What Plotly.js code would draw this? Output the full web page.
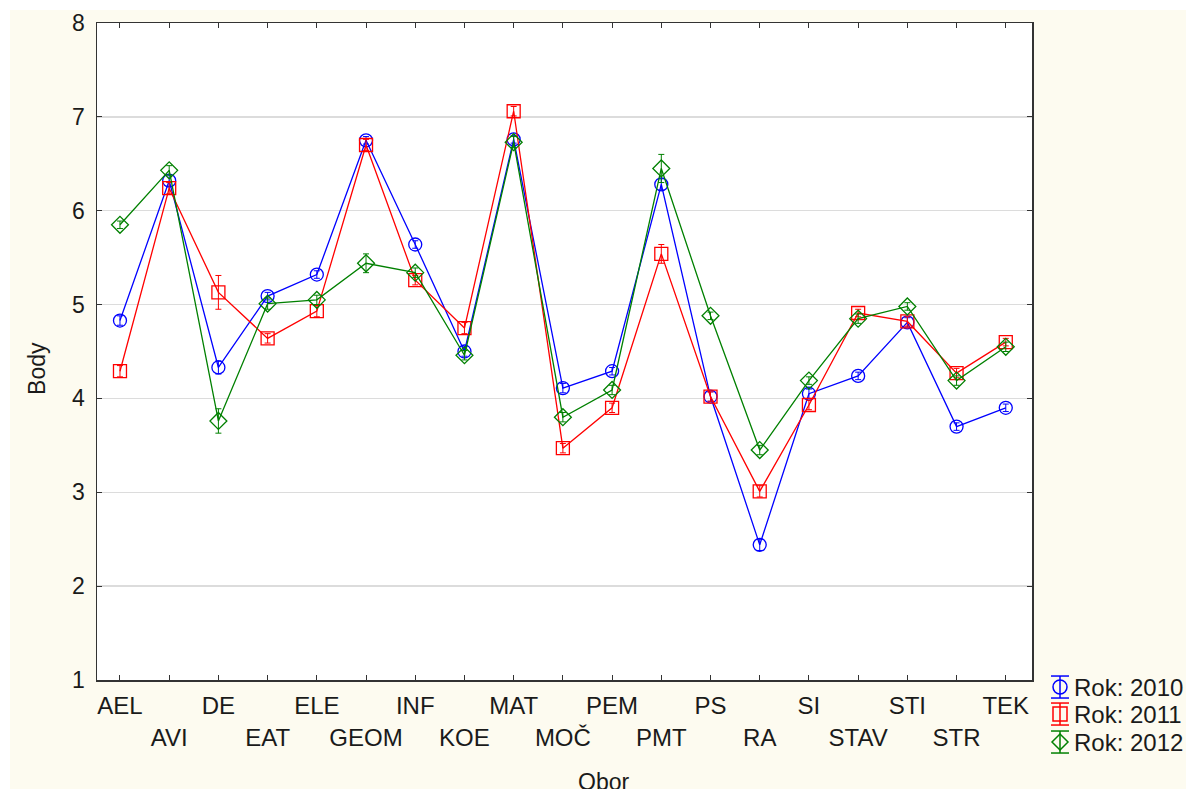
<!DOCTYPE html>
<html>
<head>
<meta charset="utf-8">
<script src="https://cdn.plot.ly/plotly-3.0.1.min.js"></script>
<style>
html,body{margin:0;padding:0;background:#ffffff;}
#chart{position:absolute;left:10px;top:10px;width:1176px;height:779px;}
</style>
</head>
<body>
<div id="chart"></div>
<script>
const categories = ["AEL","AVI","DE","EAT","ELE","GEOM","INF","KOE","MAT","MOČ","PEM","PMT","PS","RA","SI","STAV","STI","STR","TEK"];
const seriesNames = ["Rok: 2010","Rok: 2011","Rok: 2012"];
const y2010 = [4.83,6.32,4.33,5.09,5.32,6.75,5.64,4.50,6.76,4.11,4.29,6.28,4.02,2.44,4.05,4.24,4.81,3.70,3.90];
const y2011 = [4.29,6.24,5.13,4.64,4.93,6.70,5.26,4.75,7.06,3.47,3.90,5.54,4.02,3.01,3.93,4.91,4.82,4.27,4.60];
const y2012 = [5.85,6.43,3.76,5.01,5.05,5.44,5.34,4.46,6.73,3.80,4.09,6.45,4.88,3.45,4.19,4.85,4.98,4.19,4.55];
const e2010 = [0.05,0.06,0.07,0.04,0.04,0.04,0.04,0.05,0.04,0.05,0.04,0.06,0.05,0.06,0.05,0.04,0.05,0.04,0.04];
const e2011 = [0.06,0.06,0.18,0.05,0.06,0.06,0.05,0.06,0.05,0.05,0.05,0.10,0.05,0.06,0.05,0.04,0.05,0.05,0.04];
const e2012 = [0.04,0.05,0.13,0.06,0.05,0.10,0.05,0.05,0.06,0.05,0.05,0.15,0.04,0.05,0.04,0.05,0.04,0.05,0.05];
const yTicks = [1,2,3,4,5,6,7,8];

const colors = ["#0000ff","#ff0000","#008000"];
const symbols = ["circle-open","square-open","diamond-open"];
const ys = [y2010,y2011,y2012];
const es = [e2010,e2011,e2012];

const tickText = categories.map((c,i)=> i%2===1 ? "<br>"+c : c);
const FONT = "Liberation Sans, Arial, sans-serif";
const TXT = "#1a1a1a";

const traces = [];
for (let k=0;k<3;k++){
  traces.push({
    type:"scatter", mode:"lines+markers", x:categories, y:ys[k], name:seriesNames[k],
    showlegend:false, cliponaxis:false,
    line:{color:colors[k], width:1.3},
    marker:{symbol:symbols[k], size:13, color:colors[k], line:{width:1.3, color:colors[k]}},
    error_y:{type:"data", array:es[k], visible:true, color:colors[k], thickness:1, width:3}
  });
}

// Custom legend (symbol with error bar + text), positioned in paper coords
const legX = 1.02995, legTextX = 1.04278;
const legY = [-0.0107, -0.0518, -0.0944];
const shapes = [];
const annotations = [];
for (let k=0;k<3;k++){
  const base = {xref:"paper", yref:"paper", xsizemode:"pixel", ysizemode:"pixel",
                xanchor:legX, yanchor:legY[k], line:{color:colors[k], width:1.5}};
  shapes.push(Object.assign({}, base, {type:"line", x0:0, x1:0, y0:-11, y1:11}));
  shapes.push(Object.assign({}, base, {type:"line", x0:-9, x1:9, y0:11, y1:11}));
  shapes.push(Object.assign({}, base, {type:"line", x0:-9, x1:9, y0:-11, y1:-11}));
  if (k===0) shapes.push(Object.assign({}, base, {type:"circle", x0:-7, x1:7, y0:-7, y1:7}));
  if (k===1) shapes.push(Object.assign({}, base, {type:"rect", x0:-7, x1:7, y0:-7, y1:7}));
  if (k===2) shapes.push(Object.assign({}, base, {type:"path", path:"M0,-8 L8,0 L0,8 L-8,0 Z"}));
  annotations.push({text:seriesNames[k], xref:"paper", yref:"paper", x:legTextX, y:legY[k],
    xanchor:"left", yanchor:"middle", showarrow:false, font:{family:FONT, size:24, color:TXT}});
}
annotations.push({text:"Body", xref:"paper", yref:"paper", x:-0.0642, y:0.475, textangle:-90,
  showarrow:false, xanchor:"center", yanchor:"middle", font:{family:FONT, size:23, color:TXT}});
annotations.push({text:"Obor", xref:"paper", yref:"paper", x:0.542, y:-0.155,
  showarrow:false, xanchor:"center", yanchor:"middle", font:{family:FONT, size:23, color:TXT}});

const layout = {
  width:1176, height:779,
  margin:{l:87, r:154, t:13, b:109, pad:0},
  paper_bgcolor:"#fdfbf0",
  plot_bgcolor:"#ffffff",
  font:{family:FONT, size:22, color:TXT},
  showlegend:false,
  xaxis:{
    type:"category", range:[-0.467,18.533],
    tickmode:"array", tickvals:categories, ticktext:tickText, tickangle:0,
    ticks:"inside", ticklen:5, tickcolor:"#333", tickwidth:1,
    showline:true, linecolor:"#333", linewidth:1.5, mirror:"ticks",
    showgrid:false, zeroline:false,
    tickfont:{family:FONT, size:24, color:TXT}, ticklabelstandoff:4
  },
  yaxis:{
    range:[1,8], tickmode:"array", tickvals:yTicks, ticktext:yTicks.map(String),
    ticks:"inside", ticklen:5, tickcolor:"#333", tickwidth:1,
    showline:true, linecolor:"#333", linewidth:1.5, mirror:"ticks",
    showgrid:true, gridcolor:"#dcdcdc", gridwidth:1.5, zeroline:false,
    tickfont:{family:FONT, size:23, color:TXT}, ticklabelstandoff:6
  },
  shapes:shapes,
  annotations:annotations
};

Plotly.newPlot("chart", traces, layout, {displayModeBar:false, staticPlot:true});
</script>
</body>
</html>
